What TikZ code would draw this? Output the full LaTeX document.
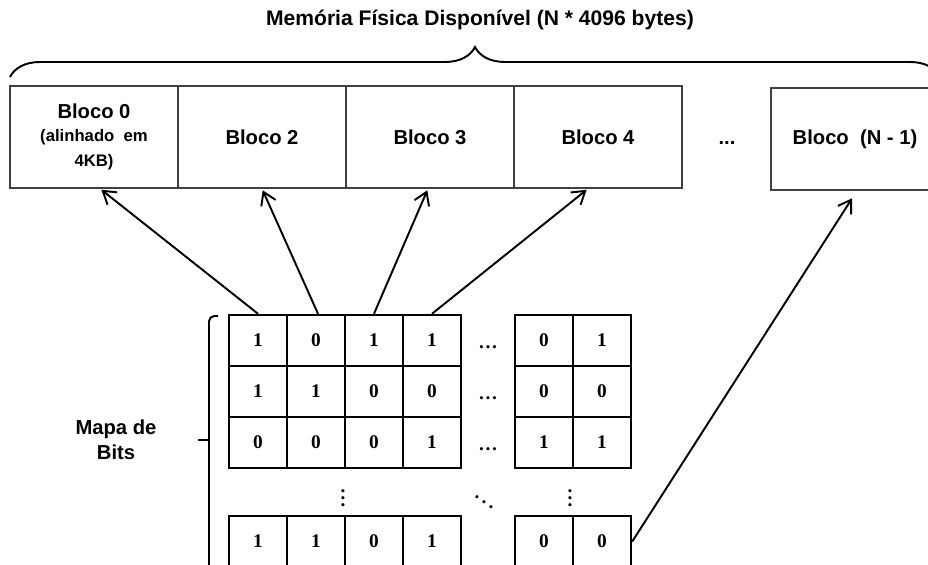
\documentclass[tikz,border=0pt]{standalone}
\usepackage{fontspec}
\setmainfont{Liberation Serif}
\setsansfont{Liberation Sans}
\usetikzlibrary{arrows.meta,decorations.pathreplacing}

\begin{document}
\begin{tikzpicture}
        [%%%%%%%%%%%%%%%%%%%%%%%%%%%%%%
        blk/.style={rectangle,draw=black!75,line width=0.8pt,minimum width=3.36cm,minimum height=2.04cm,inner sep=0pt,
                    font=\sffamily\bfseries\fontsize{11.5}{14}\selectfont},
        bit/.style={rectangle,draw=black,line width=1.4pt,minimum width=1.16cm,minimum height=1.02cm,inner sep=0pt,
                    font=\bfseries\fontsize{11}{13}\selectfont},
        dotsn/.style={font=\bfseries\fontsize{11}{13}\selectfont,inner sep=0pt},
        lbl/.style={font=\sffamily\bfseries\fontsize{11.5}{14}\selectfont,align=center},
        ptr/.style={line width=1.1pt,-{Straight Barb[length=7pt,width=9pt]},shorten >=1pt},
        brc/.style={line width=1.1pt},
        ]%%%%%%%%%%%%%%%%%%%%%%%%%%%%%%
        \useasboundingbox (0,0) rectangle (18.56,11.28);

        % memoria fisica
        \node[lbl,font=\sffamily\bfseries\fontsize{12}{14}\selectfont] (titulo) at (9.6,10.88) {Memória Física Disponível (N * 4096 bytes)};
        \draw[brc,decorate,decoration={brace,amplitude=0.6cm}] (0.2,9.74) -- (18.8,9.74);

        \node[blk,align=center] (b0) at (1.88,8.54)
          {Bloco 0\\[-1pt]{\fontsize{9.5}{13.5}\selectfont (alinhado\ \ em}\\{\fontsize{9.5}{13.5}\selectfont 4KB)}};
        \foreach \n/\x/\t in {b2/5.24/Bloco 2, b3/8.60/Bloco 3, b4/11.96/Bloco 4}
          \node[blk] (\n) at (\x,8.54) {\t};
        \node[lbl] (reticb) at (14.54,8.42) {...};
        \node[blk] (bN) at (17.10,8.50) {Bloco\ \ (N - 1)};

        % mapa de bits
        \foreach \r/\y/\va/\vb/\vc/\vd/\ve/\vf in {1/4.47/1/0/1/1/0/1, 2/3.45/1/1/0/0/0/0,
                                                  3/2.43/0/0/0/1/1/1, 4/0.45/1/1/0/1/0/0}{
          \foreach \v/\x [count=\k] in {\va/5.16,\vb/6.32,\vc/7.48,\vd/8.64,\ve/10.88,\vf/12.04}
            \node[bit] (c\r\k) at (\x,\y) {\v};
        }
        \foreach \r/\y in {1/4.33,2/3.31,3/2.29}
          \node[dotsn] (h\r) at (9.76,\y) {\dots};
        \node[dotsn] (v1) at (6.86,1.42) {$\vdots$};
        \node[dotsn] (v2) at (11.40,1.42) {$\vdots$};
        \node[dotsn] (dg) at (9.68,1.34) {$\ddots$};

        % chave do mapa
        \draw[brc,rounded corners=3pt] (4.36,4.96) -| (4.18,-0.1);
        \draw[brc] (4.18,2.48) -- (3.96,2.48);
        \node[lbl] (mapa) at (2.32,2.48) {Mapa de\\Bits};

        % ponteiros
        \draw[ptr] (c11.north) -- ([xshift=0.12cm]b0.south);
        \draw[ptr] ([xshift=0.04cm]c12.north) -- (b2.south);
        \draw[ptr] (c13.north) -- ([xshift=-0.04cm]b3.south);
        \draw[ptr] (c14.north) -- ([xshift=-0.2cm]b4.south);
        \draw[ptr,shorten >=0.18cm] (c46.east) -- ([xshift=0.04cm]bN.south);
      \end{tikzpicture}
\end{document}
